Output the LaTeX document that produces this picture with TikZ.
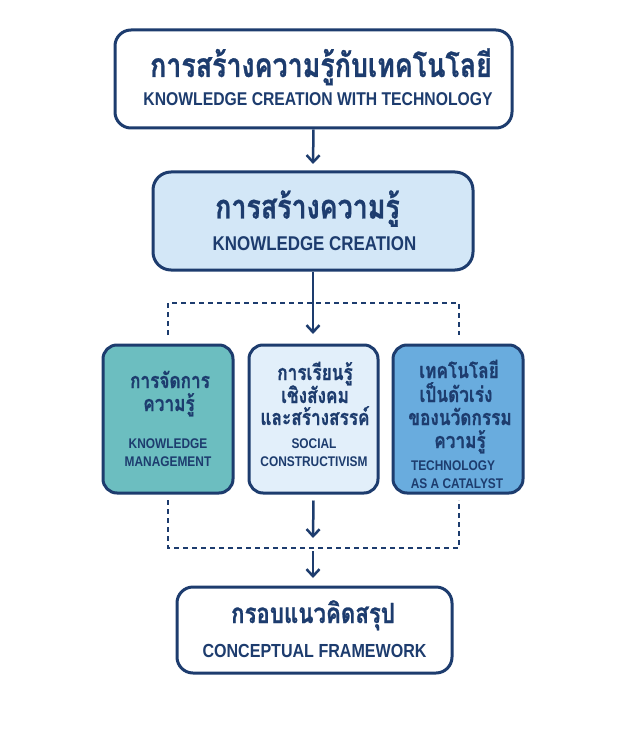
\documentclass[tikz,border=0pt]{standalone}
\usepackage{fontspec}
\setmainfont{Liberation Sans}
\newfontfamily\thai[Script=Thai,FakeStretch=0.8,FakeBold=0.8]{Loma}
\newfontfamily\en[FakeStretch=0.85]{Liberation Sans}
\usetikzlibrary{arrows.meta}
\definecolor{navy}{HTML}{1D3C6E}
\definecolor{fillB}{HTML}{D3E7F7}
\definecolor{teal}{HTML}{6CBEC0}
\definecolor{lightB}{HTML}{E2EFFA}
\definecolor{midB}{HTML}{69ACDE}
\tikzset{
  box/.style={draw=navy, line width=3pt, rounded corners=16pt, minimum width=#1, inner sep=0pt},
  thL/.style={anchor=base, text=navy, font=\thai\bfseries\fontsize{33.5}{34}\selectfont, inner sep=0pt},
  thM/.style={anchor=base, text=navy, font=\thai\bfseries\fontsize{27.8}{28}\selectfont, inner sep=0pt},
  thS/.style={anchor=base, text=navy, font=\thai\bfseries\fontsize{21.5}{22}\selectfont, inner sep=0pt},
  enL/.style={anchor=base, text=navy, font=\en\bfseries\fontsize{#1}{#1}\selectfont, inner sep=0pt},
  arr/.style={draw=navy, line width=2.5pt, -{Straight Barb[length=7pt,width=13pt,line width=2.5pt]}},
  dsh/.style={draw=navy, line width=2pt, dash pattern=on 5pt off 4pt}
}
\begin{document}
\begin{tikzpicture}[x=1pt,y=-1pt]
\useasboundingbox[fill=white] (0,0) rectangle (640,735);
% boxes
\node[box=397pt, minimum height=98pt, fill=white] (top) at (313.5,79) {};
\node[box=320pt, minimum height=98pt, fill=fillB, rounded corners=18pt] (kc) at (313,221) {};
\node[box=130pt, minimum height=148pt, fill=teal, rounded corners=14pt] (km) at (168,419) {};
\node[box=129pt, minimum height=148pt, fill=lightB, rounded corners=14pt] (sc) at (313.5,419) {};
\node[box=130pt, minimum height=148pt, fill=midB, rounded corners=14pt] (tc) at (458,419) {};
\node[box=275pt, minimum height=86pt, fill=white] (cf) at (314.5,630) {};
% texts
\node[thL] (t1) at (321,77) {การสร้างความรู้กับเทคโนโลยี};
\node[enL=18.5] (e1) at (318,106) {KNOWLEDGE CREATION WITH TECHNOLOGY};
\node[thL] (t2) at (307.5,218.5) {การสร้างความรู้};
\node[enL=19.9] (e2) at (314.5,250) {KNOWLEDGE CREATION};
\node[thS] (k1) at (170,388) {การจัดการ};
\node[thS] (k2) at (169,411) {ความรู้};
\node[enL=14] (k3) at (168,448) {KNOWLEDGE};
\node[enL=14] (k4) at (168,466) {MANAGEMENT};
\node[thS] (s1) at (315,380) {การเรียนรู้};
\node[thS] (s2) at (315,403) {เชิงสังคม};
\node[thS] (s3) at (315,425) {และสร้างสรรค์};
\node[enL=14] (s4) at (314,448) {SOCIAL};
\node[enL=14] (s5) at (314,466) {CONSTRUCTIVISM};
\node[thS] (r1) at (459,378) {เทคโนโลยี};
\node[thS] (r2) at (456,402) {เป็นดัวเร่ง};
\node[thS] (r3) at (460,425) {ของนวัดกรรม};
\node[thS] (r4) at (460,448) {ความรู้};
\node[enL=14] (r5) at (453,470) {TECHNOLOGY};
\node[enL=14] (r6) at (457,488) {AS A CATALYST};
\node[thM] (b1) at (313,623) {กรอบแนวคิดสรุป};
\node[enL=18.9] (b2) at (314.5,657) {CONCEPTUAL FRAMEWORK};
% coordinates
\coordinate (a1e) at (313,164);
\coordinate (a2e) at (313,334);
\coordinate (a3e) at (313,538);
\coordinate (a4s) at (313,551);
\coordinate (a4e) at (313,578);
\coordinate (dTL) at (168,303);
\coordinate (dTR) at (459,303);
\coordinate (dTLe) at (168,335);
\coordinate (dTRe) at (459,335);
\coordinate (dBL) at (168,548);
\coordinate (dBR) at (459,548);
\coordinate (dBLs) at (168,500);
\coordinate (dBRs) at (459,500);
% connectors
\draw[arr] (top.south) -- (a1e);
\draw[arr] ([yshift=-6pt]sc.south) -- (a3e);
\draw[arr] (kc.south) -- (a2e);
\draw[arr] (a4s) -- (a4e);
\draw[dsh] (dTLe) -- (dTL) -- (dTR) -- (dTRe);
\draw[dsh] (dBLs) -- (dBL) -- (dBR) -- (dBRs);
\end{tikzpicture}
\end{document}
